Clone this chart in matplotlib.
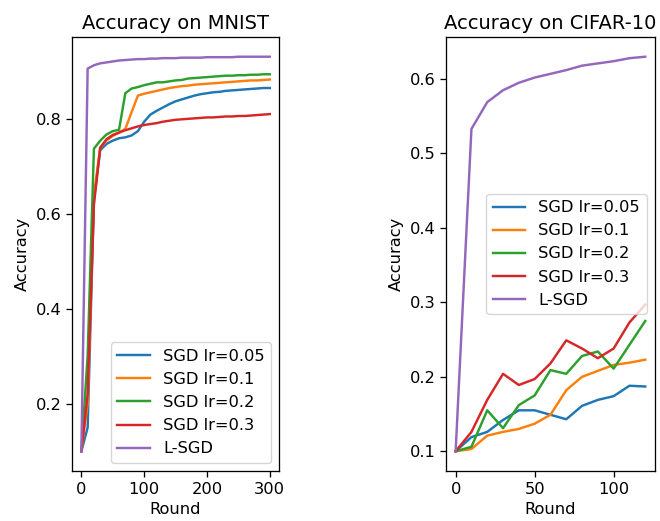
import matplotlib
matplotlib.use("Agg")
import matplotlib.pyplot as plt

labels = ["SGD lr=0.05", "SGD lr=0.1", "SGD lr=0.2", "SGD lr=0.3", "L-SGD"]

mnist_rounds = list(range(0, 301, 10))
mnist_sgd_005 = [0.1, 0.15, 0.63, 0.735, 0.748, 0.755, 0.76, 0.762, 0.766, 0.775, 0.795,
                 0.81, 0.818, 0.825, 0.832, 0.838, 0.842, 0.846, 0.85, 0.853, 0.855,
                 0.857, 0.858, 0.86, 0.861, 0.862, 0.863, 0.864, 0.865, 0.866, 0.866]
mnist_sgd_01 = [0.1, 0.2, 0.64, 0.74, 0.755, 0.765, 0.772, 0.78, 0.815, 0.85, 0.854,
                0.857, 0.86, 0.863, 0.866, 0.868, 0.87, 0.871, 0.873, 0.874, 0.875,
                0.876, 0.877, 0.878, 0.879, 0.88, 0.881, 0.882, 0.882, 0.883, 0.884]
mnist_sgd_02 = [0.1, 0.3, 0.738, 0.755, 0.768, 0.775, 0.778, 0.855, 0.865, 0.868, 0.872,
                0.875, 0.878, 0.878, 0.88, 0.882, 0.883, 0.886, 0.887, 0.888, 0.889,
                0.89, 0.891, 0.892, 0.892, 0.893, 0.893, 0.894, 0.894, 0.895, 0.895]
mnist_sgd_03 = [0.1, 0.22, 0.62, 0.74, 0.758, 0.767, 0.772, 0.777, 0.781, 0.785, 0.788,
                0.79, 0.792, 0.795, 0.797, 0.799, 0.8, 0.801, 0.802, 0.803, 0.804,
                0.804, 0.805, 0.806, 0.806, 0.807, 0.807, 0.808, 0.809, 0.81, 0.811]
mnist_lsgd = [0.1, 0.907, 0.914, 0.918, 0.92, 0.922, 0.924, 0.925, 0.926, 0.927, 0.927,
              0.928, 0.928, 0.929, 0.929, 0.929, 0.93, 0.93, 0.93, 0.93, 0.931,
              0.931, 0.931, 0.931, 0.931, 0.932, 0.932, 0.932, 0.932, 0.932, 0.932]

cifar_rounds = list(range(0, 121, 10))
cifar_sgd_005 = [0.1, 0.119, 0.126, 0.142, 0.155, 0.155, 0.149, 0.143, 0.161, 0.169, 0.174, 0.188, 0.187]
cifar_sgd_01 = [0.1, 0.103, 0.121, 0.126, 0.13, 0.137, 0.149, 0.182, 0.2, 0.208, 0.216, 0.219, 0.223]
cifar_sgd_02 = [0.1, 0.106, 0.155, 0.131, 0.162, 0.175, 0.209, 0.204, 0.228, 0.234, 0.211, 0.243, 0.275]
cifar_sgd_03 = [0.1, 0.126, 0.169, 0.204, 0.189, 0.197, 0.218, 0.249, 0.238, 0.225, 0.238, 0.273, 0.297]
cifar_lsgd = [0.1, 0.533, 0.569, 0.585, 0.595, 0.602, 0.607, 0.612, 0.618, 0.621, 0.624, 0.628, 0.63]

colors = ["#1f77b4", "#ff7f0e", "#2ca02c", "#d62728", "#9467bd"]

s = 1.17
plt.rcParams.update({
    "font.size": 10 * s,
    "axes.titlesize": 12 * s,
    "lines.linewidth": 1.5 * s,
    "axes.linewidth": 0.8 * s,
    "xtick.major.size": 3.5 * s,
    "ytick.major.size": 3.5 * s,
    "xtick.major.width": 0.8 * s,
    "ytick.major.width": 0.8 * s,
    "legend.fontsize": 10 * s,
})

fig = plt.figure(figsize=(6.6, 5.21), dpi=100)
ax1 = fig.add_axes([0.109, 0.096, 0.314, 0.833])
ax2 = fig.add_axes([0.676, 0.096, 0.316, 0.833])

for ys, lab, c in zip([mnist_sgd_005, mnist_sgd_01, mnist_sgd_02, mnist_sgd_03, mnist_lsgd], labels, colors):
    ax1.plot(mnist_rounds, ys, label=lab, color=c)
for ys, lab, c in zip([cifar_sgd_005, cifar_sgd_01, cifar_sgd_02, cifar_sgd_03, cifar_lsgd], labels, colors):
    ax2.plot(cifar_rounds, ys, label=lab, color=c)

ax1.set_title("Accuracy on MNIST")
ax1.set_xlabel("Round")
ax1.set_ylabel("Accuracy")
ax1.set_yticks([0.2, 0.4, 0.6, 0.8])
ax1.set_xticks([0, 100, 200, 300])
ax1.legend(loc="lower right")

ax2.set_title("Accuracy on CIFAR-10")
ax2.set_xlabel("Round")
ax2.set_ylabel("Accuracy")
ax2.set_xticks([0, 50, 100])
ax2.legend(loc="center right")

fig.savefig("out.png", dpi=100)
